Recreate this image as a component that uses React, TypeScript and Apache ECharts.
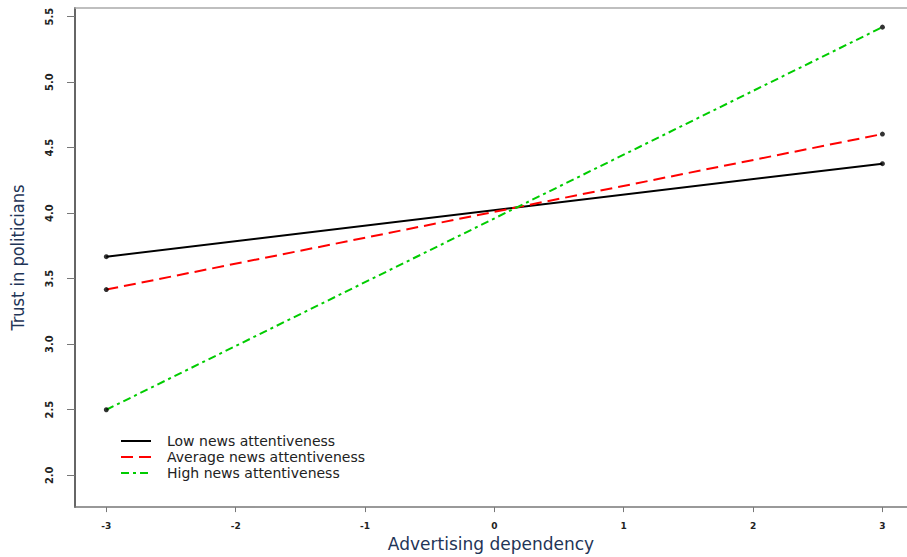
import React, { useEffect, useRef } from "react";
import * as echarts from "echarts";

const xPoints = [-3, 3];
const lowNews = [3.668, 4.378];
const averageNews = [3.417, 4.604];
const highNews = [2.5, 5.42];
const seriesNames = ["Low news attentiveness", "Average news attentiveness", "High news attentiveness"];
const xTicks = [-3, -2, -1, 0, 1, 2, 3];
const yTicks = [2.0, 2.5, 3.0, 3.5, 4.0, 4.5, 5.0, 5.5];

const pairs = (vals: number[]) => xPoints.map((x, i) => [x, vals[i]]);

const narrow = "'Liberation Sans Narrow', 'DejaVu Sans Condensed', 'Liberation Sans', sans-serif";

export default function App() {
  const ref = useRef<HTMLDivElement>(null);
  useEffect(() => {
    if (!ref.current) return;
    const chart = echarts.init(ref.current, null, { renderer: "svg" });
    const colors = ["#000000", "#ff0000", "#00cc00"];
    const dashes: any[] = ["solid", [12, 6], [8, 4, 3, 4]];
    const all = [lowNews, averageNews, highNews];
    const lineSeries = all.map((vals, i) => ({
      name: seriesNames[i],
      type: "line",
      data: pairs(vals),
      symbol: "none",
      showSymbol: false,
      lineStyle: { color: colors[i], width: 2, type: dashes[i] },
      itemStyle: { color: colors[i] },
      z: 3,
    }));
    const pointSeries = all.map((vals, i) => ({
      name: "pts" + i,
      type: "scatter",
      data: pairs(vals),
      symbol: "circle",
      symbolSize: 5,
      itemStyle: { color: "#000" },
      z: 4,
    }));
    chart.setOption({
      animation: false,
      grid: { left: 69, top: 8, right: 0, bottom: 47, containLabel: false },
      legend: {
        data: seriesNames,
        orient: "vertical",
        left: 115,
        top: 429,
        itemWidth: 30,
        itemHeight: 14,
        itemGap: 2,
        itemStyle: { opacity: 0 },
        textStyle: {
          fontFamily: "DejaVu Sans",
          fontSize: 14,
          lineHeight: 14,
          color: "#222",
          padding: [0, 0, 0, 11],
        },
      },
      xAxis: [
        {
          type: "value",
          min: -3.242,
          max: 3.19,
          name: "Advertising dependency",
          nameLocation: "middle",
          nameGap: 26,
          nameTextStyle: { fontFamily: "DejaVu Sans", fontSize: 17, color: "#1f3557" },
          axisLine: { show: true, onZero: false, lineStyle: { color: "#777", width: 1.5 } },
          axisTick: { show: true, length: 5, lineStyle: { color: "#777" }, customValues: xTicks },
          axisLabel: {
            customValues: xTicks,
            margin: 14,
            fontFamily: "DejaVu Sans",
            fontWeight: "bold",
            fontSize: 9,
            color: "#222",
          },
          splitLine: { show: false },
        },
        {
          type: "value",
          position: "top",
          min: -3.242,
          max: 3.19,
          axisLine: { show: true, onZero: false, lineStyle: { color: "#aaa", width: 1.5 } },
          axisTick: { show: false },
          axisLabel: { show: false },
          splitLine: { show: false },
        },
      ],
      yAxis: {
        type: "value",
        min: 1.757,
        max: 5.566,
        name: "Trust in politicians",
        nameLocation: "middle",
        nameGap: 49,
        nameRotate: 90,
        nameTextStyle: { fontFamily: narrow, fontSize: 18, color: "#1f3557" },
        axisLine: { show: true, onZero: false, lineStyle: { color: "#666", width: 2 } },
        axisTick: { show: true, length: 8, lineStyle: { color: "#777" }, customValues: yTicks },
        axisLabel: {
          customValues: yTicks,
          rotate: 90,
          margin: 20,
          formatter: (v: number) => v.toFixed(1),
          fontFamily: narrow,
          fontWeight: "bold",
          fontSize: 11,
          color: "#222",
        },
        splitLine: { show: false },
      },
      series: [...lineSeries, ...pointSeries],
    });
    return () => chart.dispose();
  }, []);
  return <div ref={ref} style={{ width: 907, height: 557, position: "absolute", left: 0, top: 0 }} />;
}
